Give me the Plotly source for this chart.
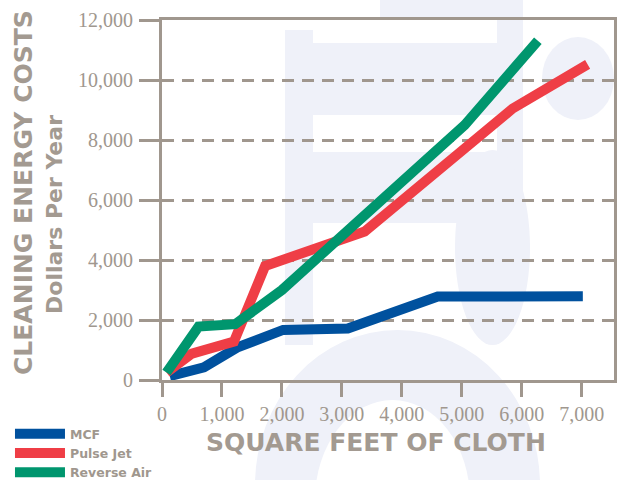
import plotly.graph_objects as go

# Data
mcf_x = [130, 700, 1250, 2020, 3100, 4600, 7020]
mcf_y = [130, 420, 1080, 1670, 1720, 2780, 2790]

pulse_x = [75, 500, 1200, 1720, 3380, 5850, 7100]
pulse_y = [250, 880, 1280, 3800, 4950, 9050, 10520]

reverse_x = [75, 610, 1220, 2000, 5050, 6270]
reverse_y = [250, 1780, 1860, 3000, 8500, 11310]

x_ticks = [0, 1000, 2000, 3000, 4000, 5000, 6000, 7000]
y_ticks = [0, 2000, 4000, 6000, 8000, 10000, 12000]

GRAY = "#a0978e"
TITLE_GRAY = "#a39a91"
WATERMARK = "#eff1f9"

# plot area in pixels (for placing the faint background watermark)
PL, PR, PT, PB = 162, 614, 20, 380


def px(x):
    return (x - PL) / (PR - PL)


def py(y):
    return (PB - y) / (PB - PT)


fig = go.Figure()
fig.add_trace(go.Scatter(x=mcf_x, y=mcf_y, mode="lines", name="MCF",
                         line=dict(color="#00519e", width=10)))
fig.add_trace(go.Scatter(x=pulse_x, y=pulse_y, mode="lines", name="Pulse Jet",
                         line=dict(color="#ef3e46", width=10)))
fig.add_trace(go.Scatter(x=reverse_x, y=reverse_y, mode="lines", name="Reverse Air",
                         line=dict(color="#00966e", width=10)))

# faint background logo watermark (decoration only)
wm_rects = [
    (285, 30, 313, 345),
    (313, 43, 523, 115),
    (313, 152, 523, 223),
    (497, 0, 523, 240),
    (380, 0, 523, 18),
]
wm_ellipses = [
    (542, 37, 614, 120, WATERMARK),
    (455, 150, 530, 345, WATERMARK),
    (255, 330, 540, 640, WATERMARK),
    (315, 400, 470, 600, "white"),
]
shapes = []
for x0, y0, x1, y1 in wm_rects:
    shapes.append(dict(type="rect", xref="paper", yref="paper",
                       x0=px(x0), x1=px(x1), y0=py(y1), y1=py(y0),
                       fillcolor=WATERMARK, line=dict(width=0), layer="below"))
for x0, y0, x1, y1, c in wm_ellipses:
    shapes.append(dict(type="circle", xref="paper", yref="paper",
                       x0=px(x0), x1=px(x1), y0=py(y1), y1=py(y0),
                       fillcolor=c, line=dict(width=0), layer="below"))

fig.update_layout(
    width=624, height=480,
    margin=dict(l=PL, r=624 - PR, t=PT, b=480 - PB, autoexpand=False),
    paper_bgcolor="white", plot_bgcolor="rgba(0,0,0,0)",
    shapes=shapes,
    showlegend=True,
    legend=dict(
        xref="container", yref="container",
        x=0.016, y=0.127, xanchor="left", yanchor="top",
        font=dict(family="DejaVu Sans", size=12.5, color=GRAY, weight="bold"),
        bgcolor="rgba(0,0,0,0)", itemwidth=50, tracegroupgap=0,
    ),
    xaxis=dict(
        range=[0, 7540], tickvals=x_ticks, ticktext=[f"{v:,}" for v in x_ticks],
        showgrid=False, zeroline=False, automargin=False, tickangle=0,
        showline=True, linecolor=GRAY, linewidth=3, mirror=True,
        ticks="outside", ticklen=14, tickwidth=3, tickcolor=GRAY,
        tickfont=dict(family="Liberation Serif", size=20, color=GRAY),
    ),
    yaxis=dict(
        range=[0, 12000], tickvals=y_ticks, ticktext=[f"{v:,}" for v in y_ticks],
        showgrid=True, gridcolor=GRAY, gridwidth=3, griddash="12px,8px",
        zeroline=False, automargin=False,
        showline=True, linecolor=GRAY, linewidth=3, mirror=True,
        ticks="outside", ticklen=20, tickwidth=3, tickcolor=GRAY,
        tickfont=dict(family="Liberation Serif", size=20, color=GRAY),
        ticklabelstandoff=2,
    ),
)

fig.add_annotation(
    text="CLEANING ENERGY COSTS", textangle=-90,
    xref="paper", yref="paper", x=px(24), y=py(193),
    xanchor="center", yanchor="middle", showarrow=False,
    font=dict(family="DejaVu Sans", size=25, color=TITLE_GRAY, weight="bold"),
)
fig.add_annotation(
    text="Dollars Per Year", textangle=-90,
    xref="paper", yref="paper", x=px(54), y=py(215),
    xanchor="center", yanchor="middle", showarrow=False,
    font=dict(family="DejaVu Sans", size=22, color=TITLE_GRAY, weight="bold"),
)
fig.add_annotation(
    text="SQUARE FEET OF CLOTH",
    xref="paper", yref="paper", x=px(376), y=py(442),
    xanchor="center", yanchor="middle", showarrow=False,
    font=dict(family="DejaVu Sans", size=25, color=TITLE_GRAY, weight="bold"),
)

fig.write_html("out.html", config={"displayModeBar": False},
               post_script="document.body.style.margin='0';")
